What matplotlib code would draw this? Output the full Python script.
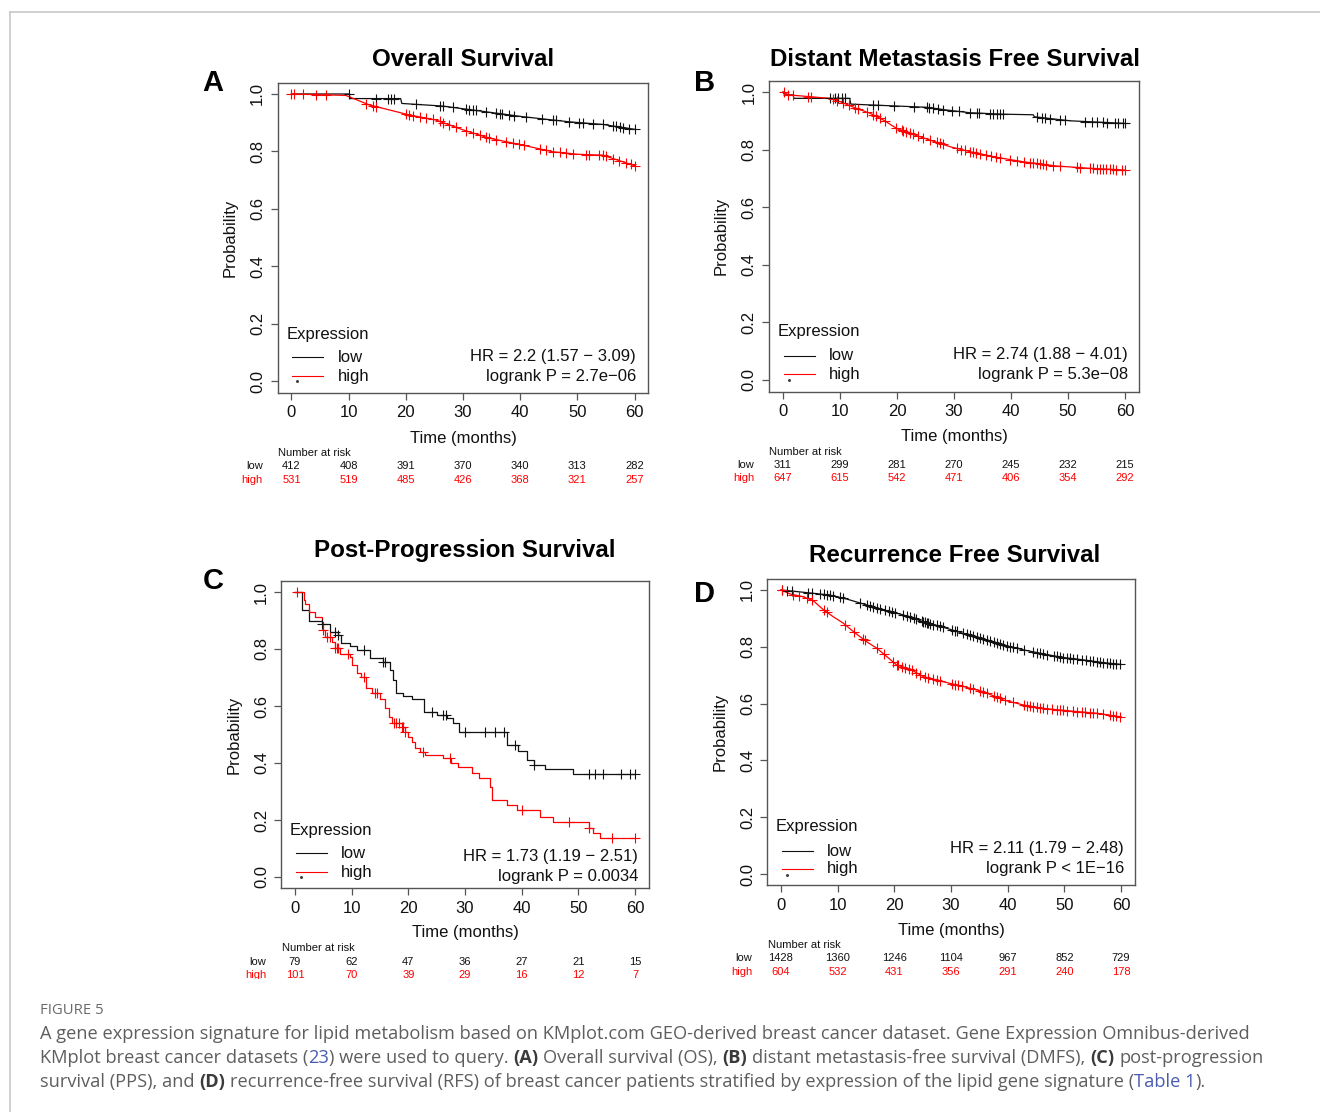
import numpy as np
import matplotlib
matplotlib.use('Agg')
import matplotlib.pyplot as plt
from matplotlib.lines import Line2D
from matplotlib.transforms import blended_transform_factory, Bbox

# ---------------------------------------------------------------- data
risk_times = [0, 10, 20, 30, 40, 50, 60]

# Panel A - Overall Survival
A_title = "Overall Survival"
A_low_t = [0, 10.1, 10.3, 19.1, 19.3, 26.4, 34.0, 40.4, 48.6, 54.4, 60]
A_low_s = [1.0, 1.0, 0.984, 0.984, 0.967, 0.958, 0.938, 0.921, 0.903, 0.894, 0.877]
A_high_t = [0, 9.5, 13.6, 20.6, 25.3, 30.0, 34.6, 40.4, 45.6, 50.0, 54.4, 57.9, 60]
A_high_s = [1.0, 0.995, 0.962, 0.927, 0.909, 0.875, 0.846, 0.822, 0.799, 0.790, 0.787, 0.764, 0.750]
A_low_cens = [10.1, 14.8, 16.8, 17.4, 18.0, 21.8, 25.9, 26.5, 28.2, 30.5, 31.1, 31.7, 32.3, 34.0,
              35.8, 36.4, 36.9, 38.1, 39.0, 41.0, 43.9, 45.7, 46.3, 48.6, 50.3, 50.9, 52.7, 54.4,
              56.2, 56.8, 57.4, 58.0, 59.1, 60.0]
A_high_cens = [0.0, 0.5, 2.0, 4.3, 6.1, 13.1, 14.2, 14.8, 20.0, 20.6, 21.2, 22.4, 23.5, 24.7, 25.9,
               26.5, 27.6, 28.8, 30.5, 31.7, 32.9, 34.0, 34.6, 35.8, 37.5, 38.7, 39.8, 40.7, 43.4,
               44.5, 45.7, 46.9, 48.0, 49.2, 51.5, 52.1, 53.8, 54.4, 55.0, 56.2, 57.3, 58.5, 59.3, 60.0]
A_risk_low = [412, 408, 391, 370, 340, 313, 282]
A_risk_high = [531, 519, 485, 426, 368, 321, 257]
A_hr = "HR = 2.2 (1.57 \u2212 3.09)"
A_p = "logrank P = 2.7e\u221206"

# Panel B - Distant Metastasis Free Survival
B_title = "Distant Metastasis Free Survival"
B_low_t = [0, 0.3, 1.8, 1.9, 11.7, 11.9, 25.2, 28.5, 32.8, 38.6, 43.9, 44.1, 50.4, 57.9, 60]
B_low_s = [1.0, 0.99, 0.99, 0.978, 0.978, 0.958, 0.947, 0.938, 0.928, 0.923, 0.921, 0.914, 0.900, 0.893, 0.891]
B_high_t = [0, 1.0, 8.2, 10.1, 12.9, 15.3, 17.6, 19.9, 22.3, 25.8, 29.3, 32.8, 37.5, 42.1, 48.0, 53.9, 60]
B_high_s = [1.0, 0.99, 0.978, 0.966, 0.943, 0.926, 0.903, 0.874, 0.856, 0.833, 0.810, 0.793, 0.773,
            0.758, 0.743, 0.735, 0.729]
B_low_cens = [8.2, 9.1, 9.7, 10.3, 10.9, 15.8, 16.7, 19.4, 22.9, 25.2, 25.7, 26.3, 27.2, 28.1, 29.6,
              30.8, 32.8, 34.0, 34.3, 36.3, 36.9, 37.5, 38.0, 38.6, 44.5, 45.4, 46.0, 46.8, 48.6,
              49.5, 53.0, 54.2, 55.0, 56.2, 56.8, 58.2, 58.8, 59.7, 60.0]
B_high_cens = [0.1, 0.9, 1.8, 4.4, 5.0, 8.8, 9.4, 10.6, 11.5, 12.6, 13.2, 14.7, 15.8, 16.4, 17.0, 17.9,
               19.9, 20.8, 21.1, 21.6, 22.2, 22.8, 23.6, 24.5, 25.8, 27.0, 27.5, 28.1, 30.5, 31.3,
               31.9, 32.8, 33.3, 33.9, 34.5, 35.7, 36.5, 37.4, 38.0, 39.8, 41.0, 42.2, 43.3, 43.9,
               44.5, 45.0, 45.6, 46.2, 47.4, 48.6, 51.5, 52.1, 53.9, 54.4, 55.0, 55.6, 56.2, 56.7,
               57.3, 57.9, 58.5, 59.4, 60.0]
B_risk_low = [311, 299, 281, 270, 245, 232, 215]
B_risk_high = [647, 615, 542, 471, 406, 354, 292]
B_hr = "HR = 2.74 (1.88 \u2212 4.01)"
B_p = "logrank P = 5.3e\u221208"

# Panel C - Post-Progression Survival (step curves)
C_title = "Post-Progression Survival"
C_low_t = [0, 1.2, 2.5, 4.7, 6.2, 7.6, 8.2, 9.7, 10.9, 13.2, 15.6, 16.8, 17.3, 17.9, 19.1, 20.6,
           22.8, 25.0, 26.8, 27.9, 28.9, 37.4, 39.4, 40.9, 42.1, 44.1, 49.1, 60]
C_low_s = [1.0, 0.937, 0.898, 0.887, 0.861, 0.849, 0.820, 0.811, 0.796, 0.767, 0.755, 0.726, 0.691,
           0.647, 0.635, 0.623, 0.580, 0.568, 0.557, 0.539, 0.510, 0.463, 0.443, 0.411, 0.393,
           0.378, 0.360, 0.360]
C_high_t = [0, 1.5, 1.8, 2.4, 3.5, 4.7, 5.0, 5.3, 6.5, 7.1, 7.9, 9.7, 10.0, 11.0, 11.7, 12.6, 13.5,
            15.0, 15.9, 16.5, 17.1, 18.8, 19.4, 20.0, 20.6, 21.2, 22.1, 22.9, 26.2, 27.6, 28.8,
            31.2, 32.4, 34.4, 34.7, 37.4, 39.1, 43.2, 45.6, 51.8, 52.6, 53.8, 60]
C_high_s = [1.0, 0.972, 0.958, 0.931, 0.911, 0.896, 0.867, 0.843, 0.826, 0.802, 0.782, 0.771, 0.744,
            0.715, 0.701, 0.662, 0.644, 0.623, 0.592, 0.562, 0.539, 0.527, 0.510, 0.492, 0.475,
            0.452, 0.440, 0.428, 0.416, 0.401, 0.387, 0.366, 0.346, 0.317, 0.270, 0.253, 0.235,
            0.212, 0.194, 0.171, 0.153, 0.136, 0.136]
C_low_cens = [4.7, 7.1, 7.6, 12.2, 15.6, 15.9, 24.2, 26.2, 26.6, 30.0, 33.5, 35.3, 36.8, 38.8, 42.1,
              51.8, 52.9, 54.4, 57.6, 59.1, 60.0]
C_high_cens = [0.3, 5.0, 5.6, 6.2, 7.1, 7.4, 7.6, 9.4, 12.1, 14.1, 14.4, 17.4, 17.9, 18.4, 18.8, 19.1,
               19.4, 22.6, 27.4, 40.0, 48.4, 51.8, 55.9, 60.0]
C_risk_low = [79, 62, 47, 36, 27, 21, 15]
C_risk_high = [101, 70, 39, 29, 16, 12, 7]
C_hr = "HR = 1.73 (1.19 \u2212 2.51)"
C_p = "logrank P = 0.0034"

# Panel D - Recurrence Free Survival
D_title = "Recurrence Free Survival"
D_low_t = [0, 3.9, 8.6, 11.6, 14.5, 18.1, 21.6, 25.1, 28.6, 32.2, 35.7, 39.2, 42.8, 46.3, 49.8,
           53.3, 56.9, 60]
D_low_s = [1.0, 0.992, 0.982, 0.968, 0.951, 0.930, 0.912, 0.888, 0.869, 0.847, 0.826, 0.806, 0.789,
           0.775, 0.762, 0.754, 0.744, 0.738]
D_high_t = [0, 1.6, 3.9, 5.7, 7.5, 9.2, 11.0, 12.8, 15.1, 16.9, 18.7, 20.4, 22.8, 25.1, 28.6, 32.2,
            35.7, 39.2, 42.8, 46.3, 51.0, 55.7, 60]
D_high_s = [1.0, 0.986, 0.976, 0.962, 0.930, 0.906, 0.883, 0.853, 0.818, 0.795, 0.765, 0.736, 0.721,
            0.695, 0.677, 0.660, 0.642, 0.613, 0.595, 0.583, 0.574, 0.566, 0.553]
D_low_cens = [0.1, 1.0, 1.9, 4.8, 5.4, 6.9, 7.5, 8.1, 8.6, 9.2, 10.4, 11.0, 14.0, 15.1, 15.7, 16.3,
              16.9, 17.5, 18.4, 19.0, 19.5, 20.1, 21.6, 22.2, 22.8, 23.4, 23.9, 24.8, 25.1, 25.4,
              25.7, 26.0, 26.3, 26.9, 27.5, 28.1, 28.6, 30.1, 30.7, 31.0, 32.2, 32.8, 33.4, 33.9,
              34.5, 35.1, 35.7, 36.3, 36.9, 37.5, 38.1, 38.6, 39.2, 39.8, 40.4, 41.0, 41.6, 42.8,
              44.5, 45.1, 45.7, 46.3, 46.9, 48.1, 48.7, 49.2, 49.8, 50.4, 51.0, 51.6, 52.2, 53.1,
              53.9, 54.5, 55.1, 55.7, 56.3, 56.9, 57.5, 58.1, 58.6, 59.2, 59.8]
D_high_cens = [0.1, 2.2, 3.1, 4.5, 5.4, 7.5, 8.1, 11.3, 12.8, 14.5, 14.8, 16.9, 18.1, 19.8, 20.4, 20.7,
               21.3, 21.9, 22.5, 23.1, 23.9, 24.5, 25.4, 26.0, 26.9, 27.5, 28.1, 30.1, 30.7, 31.3,
               31.9, 33.4, 33.9, 35.1, 35.7, 36.3, 37.5, 38.1, 38.6, 39.5, 41.0, 42.8, 43.4, 44.0,
               44.5, 45.1, 45.7, 46.3, 46.9, 47.8, 48.7, 49.2, 49.8, 50.4, 51.6, 52.2, 53.1, 53.6,
               54.5, 55.1, 55.7, 56.9, 58.1, 58.6, 59.2, 59.8]
D_risk_low = [1428, 1360, 1246, 1104, 967, 852, 729]
D_risk_high = [604, 532, 431, 356, 291, 240, 178]
D_hr = "HR = 2.11 (1.79 \u2212 2.48)"
D_p = "logrank P < 1E\u221216"

caption_head = "FIGURE 5"
caption_lines = [
    [("A gene expression signature for lipid metabolism based on KMplot.com GEO-derived breast cancer dataset. Gene Expression Omnibus-derived", "n")],
    [("KMplot breast cancer datasets (", "n"), ("23", "l"), (") were used to query. ", "n"), ("(A)", "b"),
     (" Overall survival (OS), ", "n"), ("(B)", "b"), (" distant metastasis-free survival (DMFS), ", "n"),
     ("(C)", "b"), (" post-progression", "n")],
    [("survival (PPS), and ", "n"), ("(D)", "b"),
     (" recurrence-free survival (RFS) of breast cancer patients stratified by expression of the lipid gene signature (", "n"),
     ("Table 1", "l"), (").", "n")],
]

# ---------------------------------------------------------------- layout (pixels)
W, H = 1320, 1112
plt.rcParams['font.family'] = ['Liberation Sans', 'DejaVu Sans']
fig = plt.figure(figsize=(W / 100, H / 100), dpi=100)
RED = '#FF0000'
BOXC = '#555555'
RISK_FS = 8


def fx(x):
    return x / W


def fy(y):
    return 1 - y / H


panels = [
    dict(letter='A', title=A_title, lt=A_low_t, ls=A_low_s, ht=A_high_t, hs=A_high_s,
         lc=A_low_cens, hc=A_high_cens, rl=A_risk_low, rh=A_risk_high, hr=A_hr, p=A_p, step=False,
         box=(277.7, 82.5, 648.3, 392.5), tpos=(463, 59), lpos=(213, 83), ylx=230, xly=438,
         leg=(287, 334, 357, 376, 292, 323, 338), hrx=636, hry=(356, 376), dot=(297, 381),
         risk=(278, 453, 466, 480, 263), clip=None),
    dict(letter='B', title=B_title, lt=B_low_t, ls=B_low_s, ht=B_high_t, hs=B_high_s,
         lc=B_low_cens, hc=B_high_cens, rl=B_risk_low, rh=B_risk_high, hr=B_hr, p=B_p, step=False,
         box=(769.3, 80.5, 1138.7, 391.5), tpos=(955, 59), lpos=(705, 83), ylx=721, xly=436,
         leg=(778, 332, 356, 374, 784, 815, 829), hrx=1128, hry=(354, 374), dot=(789, 380),
         risk=(769, 452, 465, 478, 754), clip=None),
    dict(letter='C', title=C_title, lt=C_low_t, ls=C_low_s, ht=C_high_t, hs=C_high_s,
         lc=C_low_cens, hc=C_high_cens, rl=C_risk_low, rh=C_risk_high, hr=C_hr, p=C_p, step=True,
         box=(281.4, 580.6, 648.6, 888.4), tpos=(465, 550), lpos=(213, 581), ylx=234, xly=933,
         leg=(290, 830, 853, 872, 296, 327, 341), hrx=638, hry=(857, 877), dot=(301, 877),
         risk=(282, 948, 962, 975, 266), clip=979),
    dict(letter='D', title=D_title, lt=D_low_t, ls=D_low_s, ht=D_high_t, hs=D_high_s,
         lc=D_low_cens, hc=D_high_cens, rl=D_risk_low, rh=D_risk_high, hr=D_hr, p=D_p, step=False,
         box=(767.4, 578.6, 1134.6, 885.4), tpos=(955, 555), lpos=(705, 594), ylx=720, xly=930,
         leg=(776, 827, 851, 869, 782, 813, 827), hrx=1124, hry=(849, 869), dot=(787, 875),
         risk=(768, 945, 958, 972, 752), clip=None),
]


def curve_y(t, s, c, step):
    t = np.asarray(t); s = np.asarray(s); c = np.asarray(c)
    if step:
        idx = np.searchsorted(t, c, side='right') - 1
        return s[np.clip(idx, 0, len(s) - 1)]
    return np.interp(c, t, s)


for P in panels:
    l, t, r, b = P['box']
    ax = fig.add_axes([fx(l), fy(b), (r - l) / W, (b - t) / H])
    ax.set_xlim(-2.4, 62.4)
    ax.set_ylim(-0.04, 1.04)
    for sp in ax.spines.values():
        sp.set_color(BOXC)
        sp.set_linewidth(1.0)
    ax.set_xticks(risk_times)
    ax.set_yticks([0, 0.2, 0.4, 0.6, 0.8, 1.0])
    ax.set_yticklabels(['0.0', '0.2', '0.4', '0.6', '0.8', '1.0'])
    ax.tick_params(axis='both', length=5, width=0.9, color=BOXC, labelsize=12, labelcolor='#111111')
    ax.tick_params(axis='x', pad=4)
    ax.tick_params(axis='y', pad=4, labelrotation=90)
    for lab in ax.get_yticklabels():
        lab.set_va('center')

    ds = 'steps-post' if P['step'] else 'default'
    ax.plot(P['lt'], P['ls'], color='#111111', lw=0.9, drawstyle=ds)
    ax.plot(P['ht'], P['hs'], color=RED, lw=0.9, drawstyle=ds)
    ax.plot(P['lc'], curve_y(P['lt'], P['ls'], P['lc'], P['step']), ls='none', marker='+',
            ms=7, mew=0.8, color='#111111')
    ax.plot(P['hc'], curve_y(P['ht'], P['hs'], P['hc'], P['step']), ls='none', marker='+',
            ms=7, mew=0.8, color=RED)

    # titles / labels
    fig.text(fx(P['tpos'][0]), fy(P['tpos'][1]), P['title'], ha='center', va='center',
             fontsize=17.4, fontweight='bold')
    fig.text(fx(P['lpos'][0]), fy(P['lpos'][1]), P['letter'], ha='center', va='center',
             fontsize=21, fontweight='bold')
    fig.text(fx(P['ylx']), fy((t + b) / 2), 'Probability', rotation=90, ha='center', va='center',
             fontsize=12, color='#111111')
    fig.text(fx((l + r) / 2), fy(P['xly']), 'Time (months)', ha='center', va='center',
             fontsize=12, color='#111111')

    # legend
    lx, ly0, ly1, ly2, la, lb, ltx = P['leg']
    fig.text(fx(lx), fy(ly0), 'Expression', ha='left', va='center', fontsize=12, color='#111111')
    fig.add_artist(Line2D([fx(la), fx(lb)], [fy(ly1), fy(ly1)], transform=fig.transFigure,
                          color='#111111', lw=0.8))
    fig.add_artist(Line2D([fx(la), fx(lb)], [fy(ly2), fy(ly2)], transform=fig.transFigure,
                          color=RED, lw=0.8))
    fig.text(fx(ltx), fy(ly1), 'low', ha='left', va='center', fontsize=12, color='#111111')
    fig.text(fx(ltx), fy(ly2), 'high', ha='left', va='center', fontsize=12, color='#111111')
    fig.add_artist(Line2D([fx(P['dot'][0])], [fy(P['dot'][1])], transform=fig.transFigure,
                          marker='o', ms=1.2, color='#444444', ls='none'))
    fig.text(fx(P['hrx']), fy(P['hry'][0]), P['hr'], ha='right', va='center', fontsize=12,
             color='#111111')
    fig.text(fx(P['hrx']), fy(P['hry'][1]), P['p'], ha='right', va='center', fontsize=12,
             color='#111111')

    # risk table
    rx, rhy, rly, rhy2, rlab = P['risk']
    trans = blended_transform_factory(ax.transData, fig.transFigure)
    texts = []
    fig.text(fx(rx), fy(rhy), 'Number at risk', ha='left', va='center', fontsize=RISK_FS,
             color='#111111')
    texts.append(fig.text(fx(rlab), fy(rly), 'low', ha='right', va='center', fontsize=RISK_FS,
                          color='#111111'))
    texts.append(fig.text(fx(rlab), fy(rhy2), 'high', ha='right', va='center', fontsize=RISK_FS,
                          color=RED))
    for tt, nl, nh in zip(risk_times, P['rl'], P['rh']):
        texts.append(fig.text(tt, fy(rly), str(nl), transform=trans, ha='center', va='center',
                              fontsize=RISK_FS, color='#111111'))
        texts.append(fig.text(tt, fy(rhy2), str(nh), transform=trans, ha='center', va='center',
                              fontsize=RISK_FS, color=RED))
    if P['clip'] is not None:
        cb = Bbox([[0, H - P['clip']], [W, H]])
        for tx in texts:
            tx.set_clip_box(cb)
            tx.set_clip_on(True)

# frame lines
fig.add_artist(Line2D([fx(9.5), 1], [fy(11.5), fy(11.5)], transform=fig.transFigure,
                      color='#c8c8c8', lw=1.2))
fig.add_artist(Line2D([fx(9.5), fx(9.5)], [fy(11.5), 0], transform=fig.transFigure,
                      color='#c8c8c8', lw=1.2))

# caption
CAPF = ['Open Sans', 'DejaVu Sans']
CAPS = 13.15
GRAY = '#5e5e5e'
fig.text(fx(40), fy(1011), caption_head, ha='left', va='center', fontsize=10.7, color='#6a6a6a',
         family=CAPF)

renderer = fig.canvas.get_renderer()


def text_width(s, weight):
    tt = fig.text(0, 0, s, fontsize=CAPS, family=CAPF, fontweight=weight)
    w = tt.get_window_extent(renderer).width
    tt.remove()
    return w


space_w = text_width('a a', 'normal') - text_width('aa', 'normal')
styles = {'n': ('normal', GRAY), 'b': ('bold', '#3a3a3a'), 'l': ('normal', '#4a5bb0')}
for li, segs in enumerate(caption_lines):
    y = [1034, 1058, 1082][li]
    x = 40.0
    for s, st in segs:
        weight, col = styles[st]
        lead = len(s) - len(s.lstrip(' '))
        trail = len(s) - len(s.rstrip(' '))
        core = s.strip(' ')
        x += lead * space_w
        if core:
            tt = fig.text(fx(x), fy(y), core, ha='left', va='center', fontsize=CAPS, family=CAPF,
                          fontweight=weight, color=col)
            x += tt.get_window_extent(renderer).width
        x += trail * space_w

fig.savefig('out.png', dpi=100)
